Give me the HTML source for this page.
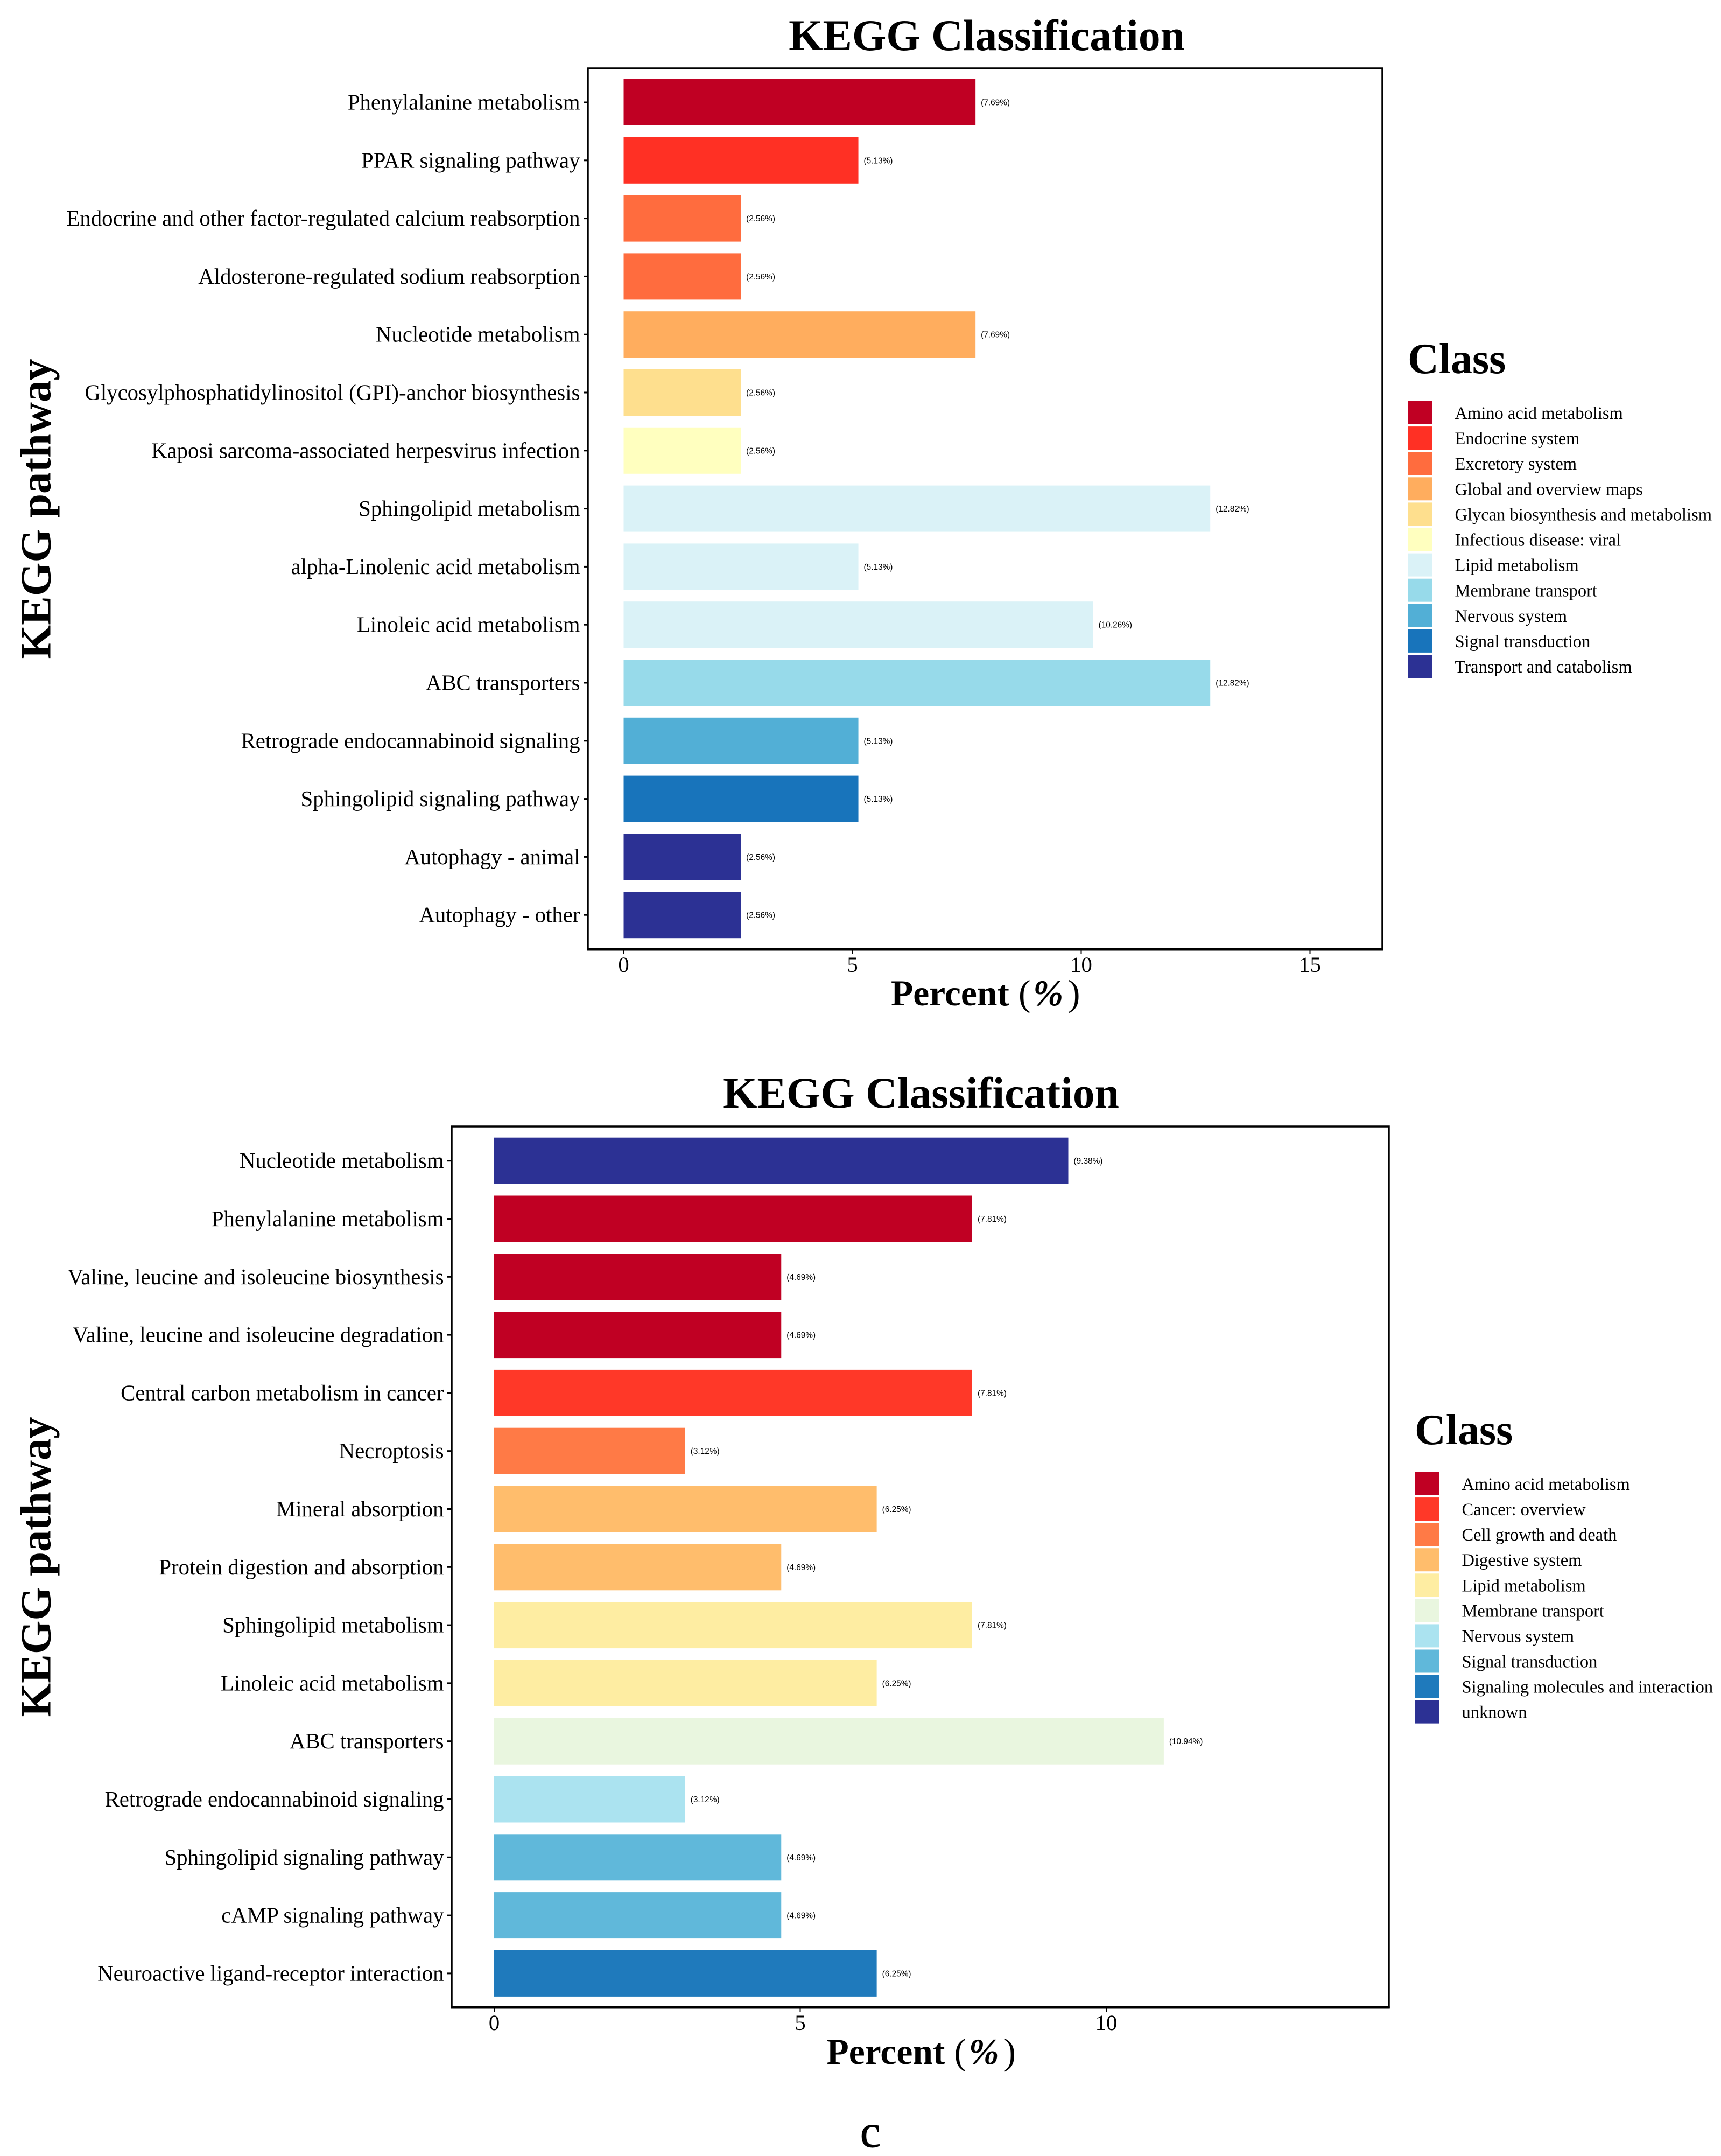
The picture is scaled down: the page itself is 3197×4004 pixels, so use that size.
<!DOCTYPE html>
<html lang="en">
<head>
<meta charset="utf-8">
<title>KEGG Classification</title>
<style>
html,body{margin:0;padding:0;background:#fff;}
svg{display:block;}
text{fill:#000;}
.serif{font-family:"Liberation Serif","Times New Roman",serif;}
.sans{font-family:"Liberation Sans",Arial,sans-serif;}
</style>
</head>
<body>
<svg id="figure" xmlns="http://www.w3.org/2000/svg" width="3197" height="4004" viewBox="0 0 3197 4004">
  <rect x="0" y="0" width="3197" height="4004" fill="#ffffff"/>
  <g id="chart-top"></g>
  <g id="chart-bottom"></g>
  <text class="serif" x="1617" y="3987" font-size="86" stroke="#000" stroke-width="1" text-anchor="middle">c</text>
</svg>
<script>
// ---- Top chart data ----
const topPathways = ["Phenylalanine metabolism","PPAR signaling pathway","Endocrine and other factor-regulated calcium reabsorption","Aldosterone-regulated sodium reabsorption","Nucleotide metabolism","Glycosylphosphatidylinositol (GPI)-anchor biosynthesis","Kaposi sarcoma-associated herpesvirus infection","Sphingolipid metabolism","alpha-Linolenic acid metabolism","Linoleic acid metabolism","ABC transporters","Retrograde endocannabinoid signaling","Sphingolipid signaling pathway","Autophagy - animal","Autophagy - other"];
const topPercents = [7.69,5.13,2.56,2.56,7.69,2.56,2.56,12.82,5.13,10.26,12.82,5.13,5.13,2.56,2.56];
const topBarClasses = ["Amino acid metabolism","Endocrine system","Excretory system","Excretory system","Global and overview maps","Glycan biosynthesis and metabolism","Infectious disease: viral","Lipid metabolism","Lipid metabolism","Lipid metabolism","Membrane transport","Nervous system","Signal transduction","Transport and catabolism","Transport and catabolism"];
const topClasses = ["Amino acid metabolism","Endocrine system","Excretory system","Global and overview maps","Glycan biosynthesis and metabolism","Infectious disease: viral","Lipid metabolism","Membrane transport","Nervous system","Signal transduction","Transport and catabolism"];
const topColors = ["#C00023","#FF3024","#FF6C3E","#FFAD5E","#FEDF8E","#FFFFBF","#DAF2F7","#97DAEA","#52AFD6","#1874BB","#2C3194"];
const topTicks = [0,5,10,15];

// ---- Bottom chart data ----
const bottomPathways = ["Nucleotide metabolism","Phenylalanine metabolism","Valine, leucine and isoleucine biosynthesis","Valine, leucine and isoleucine degradation","Central carbon metabolism in cancer","Necroptosis","Mineral absorption","Protein digestion and absorption","Sphingolipid metabolism","Linoleic acid metabolism","ABC transporters","Retrograde endocannabinoid signaling","Sphingolipid signaling pathway","cAMP signaling pathway","Neuroactive ligand-receptor interaction"];
const bottomPercents = [9.38,7.81,4.69,4.69,7.81,3.12,6.25,4.69,7.81,6.25,10.94,3.12,4.69,4.69,6.25];
const bottomBarClasses = ["unknown","Amino acid metabolism","Amino acid metabolism","Amino acid metabolism","Cancer: overview","Cell growth and death","Digestive system","Digestive system","Lipid metabolism","Lipid metabolism","Membrane transport","Nervous system","Signal transduction","Signal transduction","Signaling molecules and interaction"];
const bottomClasses = ["Amino acid metabolism","Cancer: overview","Cell growth and death","Digestive system","Lipid metabolism","Membrane transport","Nervous system","Signal transduction","Signaling molecules and interaction","unknown"];
const bottomColors = ["#C00023","#FF3828","#FF7A46","#FFBD6C","#FEEDA2","#E9F6DF","#ABE3F0","#60B8DA","#1F7ABC","#2C3194"];
const bottomTicks = [0,5,10];

const SVG_NS = "http://www.w3.org/2000/svg";

function make(tag, parent) {
  const el = document.createElementNS(SVG_NS, tag);
  parent.appendChild(el);
  return el;
}
function put(el, key, val) { el.setAttribute(key, val); }
function slug(s) {
  return s.toLowerCase().replace(/[^a-z0-9]+/g, '-').replace(/^-|-$/g, '');
}
function label(parent, cls, x, y, size, anchor, weight, str) {
  const t = make('text', parent);
  put(t, 'class', cls);
  put(t, 'x', x);
  put(t, 'y', y);
  put(t, 'font-size', size);
  put(t, 'text-anchor', anchor);
  put(t, 'font-weight', weight);
  t.textContent = str;
  return t;
}
function span(parent, x, weight, style, str) {
  const s = make('tspan', parent);
  put(s, 'x', x);
  put(s, 'font-weight', weight);
  put(s, 'font-style', style);
  s.textContent = str;
}

function drawChart(root, d, L) {
  const xScale = v => L.x0 + v * L.unit;
  const yScale = i => L.barTop + i * L.pitch;

  // title
  const title = label(root, 'serif', L.titleX, L.titleY, 81.5, 'middle', 'bold', 'KEGG Classification');
  
  

  // bars, value labels, y ticks, y labels
  d.pathways.forEach((name, i) => {
    const color = d.colors[d.classes.indexOf(d.barClasses[i])];
    const y = yScale(i);
    const mid = y + L.barH / 2;

    const bar = make('rect', root);
    put(bar, 'x', xScale(0));
    put(bar, 'y', y);
    put(bar, 'width', xScale(d.percents[i]) - xScale(0));
    put(bar, 'height', L.barH);
    put(bar, 'fill', color);
    
    

    const val = label(root, 'sans', xScale(d.percents[i]) + 10, mid + 5.5, 15.4, 'start', 'normal', '(' + d.percents[i].toFixed(2) + '%)');
    
    

    const tick = make('line', root);
    put(tick, 'x1', L.left - 8);
    put(tick, 'x2', L.left);
    put(tick, 'y1', mid);
    put(tick, 'y2', mid);
    put(tick, 'stroke', '#000');
    put(tick, 'stroke-width', 3);
    
    

    const lab = label(root, 'serif', L.left - 14.5, mid + 13.5, 40.8, 'end', 'normal', name);
    
    
  });

  // panel border
  const frame = make('rect', root);
  put(frame, 'x', L.left);
  put(frame, 'y', L.top);
  put(frame, 'width', L.right - L.left);
  put(frame, 'height', L.bottom - L.top);
  put(frame, 'fill', 'none');
  put(frame, 'stroke', '#000');
  put(frame, 'stroke-width', 3.5);
  
  

  const xAxis = make('line', root);
  put(xAxis, 'x1', L.left - 1.7);
  put(xAxis, 'x2', L.right + 1.7);
  put(xAxis, 'y1', L.bottom);
  put(xAxis, 'y2', L.bottom);
  put(xAxis, 'stroke', '#000');
  put(xAxis, 'stroke-width', 5);
  
  

  // x ticks
  d.ticks.forEach(v => {
    const tk = make('line', root);
    put(tk, 'x1', xScale(v));
    put(tk, 'x2', xScale(v));
    put(tk, 'y1', L.bottom);
    put(tk, 'y2', L.bottom + 9);
    put(tk, 'stroke', '#000');
    put(tk, 'stroke-width', 2);
    
    

    const tl = label(root, 'serif', xScale(v), L.tickY, 40.7, 'middle', 'normal', String(v));
    
    
  });

  // axis titles
  const xt = label(root, 'serif', L.xTitleX, L.xTitleY, 67.5, 'start', 'bold', '');
  
  
  span(xt, L.xTitleX, 'bold', 'normal', 'Percent');
  span(xt, L.xTitleX + 237, 'normal', 'normal', '(');
  span(xt, L.xTitleX + 264, 'bold', 'italic', '%');
  span(xt, L.xTitleX + 329, 'normal', 'normal', ')');

  const yt = label(root, 'serif', 0, 0, 80.5, 'middle', 'bold', 'KEGG pathway');
  put(yt, 'transform', 'translate(' + L.yTitleX + ',' + L.yTitleY + ') rotate(-90)');
  
  

  // legend
  const lt = label(root, 'serif', L.legendX - 2, L.legendTitleY, 80, 'start', 'bold', 'Class');
  
  

  d.classes.forEach((name, i) => {
    const y = L.legendTop + i * L.legendPitch;
    const sw = make('rect', root);
    put(sw, 'x', L.legendX - 1);
    put(sw, 'y', y);
    put(sw, 'width', 44);
    put(sw, 'height', 43);
    put(sw, 'fill', d.colors[i]);
    
    

    const tx = label(root, 'serif', L.legendTextX, y + 33, 32.5, 'start', 'normal', name);
    
    
  });
}

drawChart(document.getElementById('chart-top'),
  {pathways: topPathways, percents: topPercents, barClasses: topBarClasses, classes: topClasses, colors: topColors, ticks: topTicks},
  {left: 1092, right: 2568, top: 127, bottom: 1763, x0: 1158.5, unit: 85, barTop: 147, pitch: 107.8, barH: 86,
   titleX: 1833, titleY: 93, xTitleX: 1655, xTitleY: 1867, tickY: 1805, yTitleX: 93.5, yTitleY: 945,
   legendX: 2617, legendTitleY: 693, legendTop: 745, legendPitch: 47.1, legendTextX: 2702.5});

drawChart(document.getElementById('chart-bottom'),
  {pathways: bottomPathways, percents: bottomPercents, barClasses: bottomBarClasses, classes: bottomClasses, colors: bottomColors, ticks: bottomTicks},
  {left: 839, right: 2580, top: 2092, bottom: 3728, x0: 918, unit: 113.7, barTop: 2112.7, pitch: 107.8, barH: 86,
   titleX: 1711, titleY: 2057, xTitleX: 1535.5, xTitleY: 3833, tickY: 3770, yTitleX: 93.5, yTitleY: 2910,
   legendX: 2630, legendTitleY: 2682, legendTop: 2734, legendPitch: 47.07, legendTextX: 2715.5});
</script>
</body>
</html>
